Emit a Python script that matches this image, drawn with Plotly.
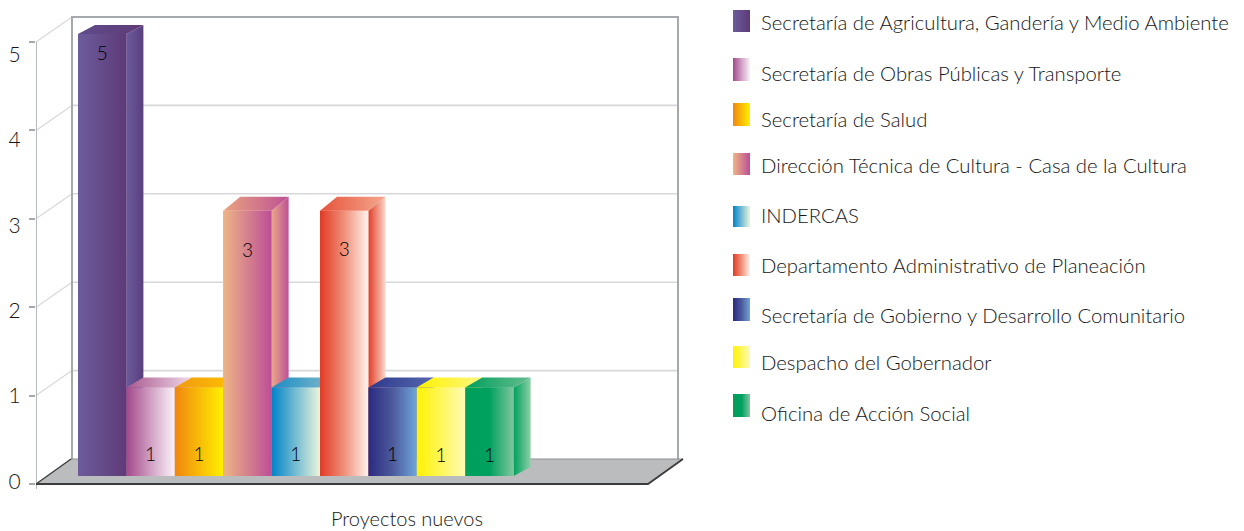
import plotly.graph_objects as go

# ---- data ----
categories = [
    "Secretaría de Agricultura, Gandería y Medio Ambiente",
    "Secretaría de Obras Públicas y Transporte",
    "Secretaría de Salud",
    "Dirección Técnica de Cultura - Casa de la Cultura",
    "INDERCAS",
    "Departamento Administrativo de Planeación",
    "Secretaría de Gobierno y Desarrollo Comunitario",
    "Despacho del Gobernador",
    "Oficina de Acción Social",
]
values = [5, 1, 1, 3, 1, 3, 1, 1, 1]
y_ticks = [0, 1, 2, 3, 4, 5]
x_title = "Proyectos nuevos"

# ---- styles: (front, top, side) gradients, left to right ----
front_colors = [
    ["#6C5C9C", "#5E3A77"], ["#A2498A", "#D0A0C4", "#FBF2F8"], ["#F0860F", "#FFF000"],
    ["#EEB585", "#BD4E97"], ["#0083C8", "#EAF5DC"], ["#E13A24", "#F0907A", "#FFF3EC"],
    ["#2B2A80", "#4C5A9C", "#6FA5DA"], ["#FFF200", "#FFFBB5"], ["#009F5A", "#00A060", "#82C69E"],
]
top_colors = [
    ["#5F4C8A", "#5E3A77"], ["#A9588F", "#F0D8E8"], ["#F09A10", "#FFC400"],
    ["#E9A27F", "#BE5295"], ["#1A8CC4", "#86BBCB"], ["#E6533B", "#F4A88E"],
    ["#2E3A8C", "#5566AE"], ["#FFF200", "#FFF680"], ["#00A05C", "#66BB90"],
]
side_colors = [
    ["#6A5B9C", "#5A3E7E"], ["#B56CA0", "#F5E0EE"], ["#F09A10", "#FFC400"],
    ["#E9A888", "#BD5096"], ["#0F88C6", "#8CC3D0"], ["#E23E28", "#FAD6C8"],
    ["#3A4A9A", "#5B7CBC"], ["#FFF200", "#FFF99A"], ["#00A05C", "#8CCFA8"],
]
legend_text_y = [22, 73, 119, 165, 215, 265, 315, 362, 413]
legend_box = [(10, 32), (58, 81), (103, 126), (153, 175), (206, 227), (254, 276), (298, 321), (346, 368), (394, 417)]
label_y = [4.85, 0.31, 0.31, 2.62, 0.31, 2.63, 0.31, 0.30, 0.30]
top_depth_px = [9, 10, 10, 14, 10, 14, 10, 10, 10]
FONT = "Lato"
TXT = "#161616"
GRID = "#D6D8DA"
WALL = "#A5A9AC"

# ---- layout mapping (page pixels -> axis units); the page body has an 8 px margin ----
W, H = 1244, 531
PAGE = 8
SLOT, X0 = 48.4, 78
UNIT, Y0 = 88.4, 484
def X(p): return (p - X0) / SLOT
def Y(p): return (Y0 - p) / UNIT
BASE = Y(476)
DX, DY = 17 / SLOT, 9 / UNIT
WALL_DY = 25 / UNIT

fig = go.Figure()

def grad(colors):
    n = len(colors) - 1
    return [[i / n, c] for i, c in enumerate(colors)]

def poly(xs, ys, colors):
    fig.add_trace(go.Scatter(
        x=xs + xs[:1], y=ys + ys[:1], mode="lines", fill="toself", line=dict(width=0),
        fillgradient=dict(type="horizontal", colorscale=grad(colors)),
        hoverinfo="skip", showlegend=False))

def seg(x, y, color, width):
    fig.add_trace(go.Scatter(x=x, y=y, mode="lines", line=dict(color=color, width=width),
                             hoverinfo="skip", showlegend=False, cliponaxis=False))

# real bars (solid base colours, the gradient faces are painted on top)
fig.add_trace(go.Bar(
    x=[i + 0.5 for i in range(len(values))], y=values, base=BASE, width=1,
    marker=dict(color=[c[0] for c in front_colors], line=dict(width=0)),
    hovertext=categories, showlegend=False))

# floor
fig.add_trace(go.Scatter(
    x=[X(36), X(648), X(683), X(71), X(36)], y=[Y(484), Y(484), Y(459), Y(459), Y(484)],
    mode="lines", fill="toself", fillcolor="#BBBCBE", line=dict(width=0),
    hoverinfo="skip", showlegend=False))

# walls and grid
for v in y_ticks[1:-1]:
    seg([X(72), X(678)], [v + WALL_DY, v + WALL_DY], GRID, 1.6)
for v in y_ticks[1:]:
    seg([X(36), X(72)], [v, v + WALL_DY], GRID, 1.2)
seg([X(72), X(72), X(678), X(678)],
    [0 + WALL_DY, 5 + WALL_DY, 5 + WALL_DY, 0 + WALL_DY], WALL, 2)
seg([X(36), X(36)], [Y(489), 5], WALL, 1.6)
seg([X(71), X(683)], [WALL_DY, WALL_DY], "#8E8F91", 1.2)
seg([X(36), X(71)], [0, WALL_DY], "#3C3C3C", 1.4)
seg([X(36), X(648), X(683)], [0, 0, WALL_DY], "#3C3C3C", 1.8)

# 3-D bars
for i, v in enumerate(values):
    l, r, b, t = i, i + 1, BASE, BASE + v
    td = top_depth_px[i] / UNIT
    poly([r, r + DX, r + DX, r], [t, t + td, b + DY, b], side_colors[i])
    poly([l, r, r + DX, l + DX], [t, t, t + td, t + td], top_colors[i])
    poly([l, r, r, l], [b, b, t, t], front_colors[i])

# value labels
fig.add_trace(go.Scatter(
    x=[i + 0.5 for i in range(len(values))], y=label_y, mode="text",
    text=[str(v) for v in values], textposition="middle center",
    textfont=dict(family=FONT, size=19, weight=300, color="#000000"),
    hoverinfo="skip", showlegend=False))

# legend
for name, cols, (y0, y1), ty in zip(categories, front_colors, legend_box, legend_text_y):
    poly([X(733), X(750), X(750), X(733)], [Y(y1), Y(y1), Y(y0), Y(y0)], cols)
    fig.add_annotation(x=X(759), y=Y(ty), xref="x", yref="y", text=name, showarrow=False,
                       xanchor="left", yanchor="middle",
                       font=dict(family=FONT, size=20.3, weight=300, color=TXT))

fig.add_annotation(x=X(407), y=Y(518), xref="x", yref="y", text=x_title, showarrow=False,
                   font=dict(family=FONT, size=20, weight=300, color=TXT))

# invisible trace that carries the tick-label axis
fig.add_trace(go.Scatter(x=[X(36)] * len(y_ticks), y=y_ticks, yaxis="y2", mode="none",
                         hoverinfo="skip", showlegend=False))

fig.update_layout(
    width=W - PAGE, height=H - PAGE, autosize=False,
    margin=dict(l=36 - PAGE, r=0, t=0, b=0, pad=0),
    paper_bgcolor="white", plot_bgcolor="white", barmode="overlay",
    showlegend=False,
    xaxis=dict(range=[X(36), X(W)], visible=False, fixedrange=True),
    yaxis=dict(range=[Y(H), Y(PAGE)], tickvals=y_ticks, ticks="outside", ticklen=6, tickwidth=1.6,
               tickcolor=WALL, showticklabels=False, showgrid=False, zeroline=False,
               showline=False, fixedrange=True),
    yaxis2=dict(overlaying="y", side="left", anchor="x",
                range=[(481.5 - H) / 85.4, (481.5 - PAGE) / 85.4], tickvals=y_ticks, ticks="outside",
                ticklen=10, tickcolor="rgba(0,0,0,0)", showgrid=False, zeroline=False,
                showline=False, fixedrange=True,
                tickfont=dict(family=FONT, size=21, weight=300, color=TXT)),
)

fig.write_html("out.html", config=dict(displayModeBar=False))
